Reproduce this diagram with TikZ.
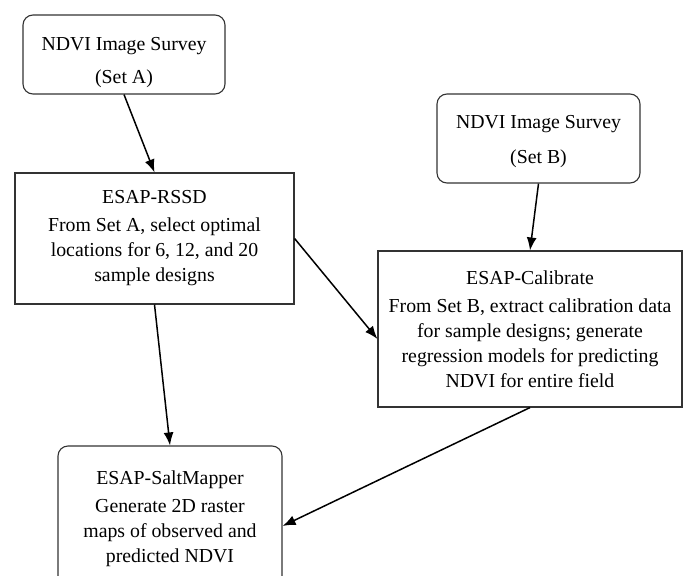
\documentclass[tikz,border=0pt]{standalone}
\usepackage{fontspec}
\setmainfont{Liberation Serif}
\usepackage{tikz}
\usetikzlibrary{arrows.meta}

\tikzset{
  survey/.style={draw=black!80,line width=1.1pt,rounded corners=10pt,align=center,inner sep=0pt},
  tool/.style={draw=black!80,line width=1.1pt,align=center,inner sep=0pt}
}

\begin{document}
\begin{tikzpicture}[x=1pt,y=-1pt,->,>={Latex[length=13pt,width=10pt]},line width=1.5pt,font=\fontsize{19.8}{25}\selectfont]
    \useasboundingbox (0,0) rectangle (684,575);
    \node (seta) [survey,minimum width=202pt,minimum height=79pt] at (124,54.5)
      {\rule{0pt}{30pt}NDVI Image Survey\\[8pt](Set A)};
    \node (setb) [survey,minimum width=203pt,minimum height=89pt] at (538.5,138.5)
      {\rule{0pt}{20pt}NDVI Image Survey\\[10pt](Set B)};
    \node (rssd) [tool,minimum width=279pt,minimum height=131pt] at (154.5,238.5)
      {ESAP-RSSD\\[3pt]From Set A, select optimal\\locations for 6, 12, and 20\\sample designs};
    \node (calib) [tool,minimum width=304pt,minimum height=156pt] at (530,329)
      {ESAP-Calibrate\\[3pt]From Set B, extract calibration data\\for sample designs; generate\\regression models for predicting\\NDVI for entire field};
    \node (salt) [survey,minimum width=224pt,minimum height=146pt] at (170,519)
      {ESAP-SaltMapper\\[3pt]Generate 2D raster\\maps of observed and\\predicted NDVI};
    \path
    (seta.south) edge (rssd.north)
    (setb.south) edge (calib.north)
    (rssd.east) edge ([yshift=-10pt]calib.west)
    (rssd.south) edge (salt.north)
    (calib.south) edge ([yshift=-7pt]salt.east)
    ;
  \end{tikzpicture}
\end{document}
